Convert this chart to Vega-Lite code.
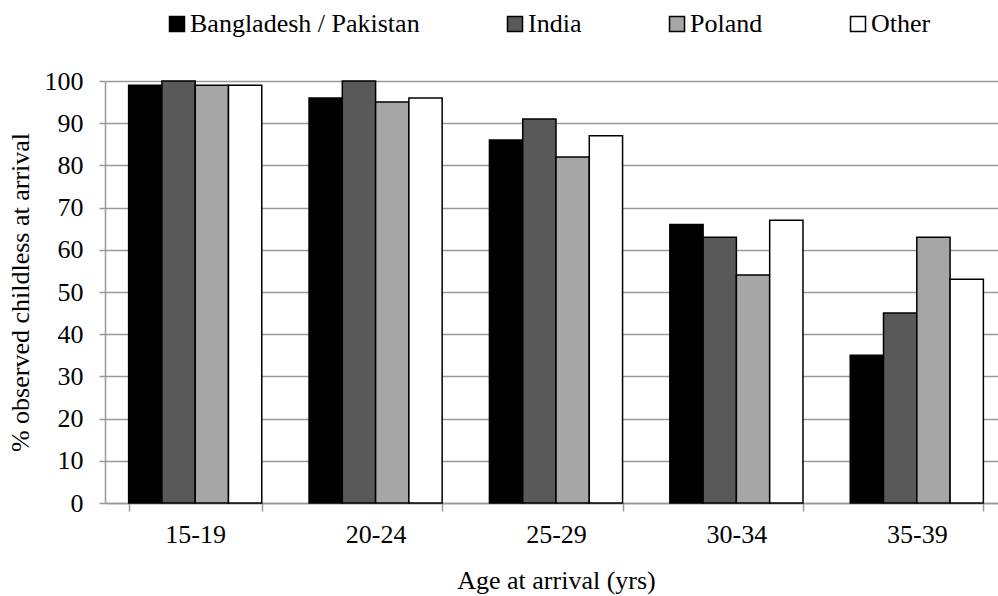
{
  "$schema": "https://vega.github.io/schema/vega-lite/v6.json",
  "autosize": {"type": "none"},
  "padding": {"left": 105, "top": 81, "right": 0, "bottom": 93},
  "width": 893,
  "height": 422,
  "background": "white",
  "config": {
    "font": "Liberation Serif",
    "view": {"stroke": null}
  },
  "data": {
    "values": [
      {"age": "15-19", "origin": "Bangladesh / Pakistan", "pct": 99},
      {"age": "15-19", "origin": "India", "pct": 100},
      {"age": "15-19", "origin": "Poland", "pct": 99},
      {"age": "15-19", "origin": "Other", "pct": 99},
      {"age": "20-24", "origin": "Bangladesh / Pakistan", "pct": 96},
      {"age": "20-24", "origin": "India", "pct": 100},
      {"age": "20-24", "origin": "Poland", "pct": 95},
      {"age": "20-24", "origin": "Other", "pct": 96},
      {"age": "25-29", "origin": "Bangladesh / Pakistan", "pct": 86},
      {"age": "25-29", "origin": "India", "pct": 91},
      {"age": "25-29", "origin": "Poland", "pct": 82},
      {"age": "25-29", "origin": "Other", "pct": 87},
      {"age": "30-34", "origin": "Bangladesh / Pakistan", "pct": 66},
      {"age": "30-34", "origin": "India", "pct": 63},
      {"age": "30-34", "origin": "Poland", "pct": 54},
      {"age": "30-34", "origin": "Other", "pct": 67},
      {"age": "35-39", "origin": "Bangladesh / Pakistan", "pct": 35},
      {"age": "35-39", "origin": "India", "pct": 45},
      {"age": "35-39", "origin": "Poland", "pct": 63},
      {"age": "35-39", "origin": "Other", "pct": 53}
    ]
  },
  "mark": {"type": "bar", "stroke": "black", "strokeWidth": 1.5, "cornerRadius": 0},
  "encoding": {
    "x": {
      "field": "age",
      "type": "nominal",
      "sort": ["15-19", "20-24", "25-29", "30-34", "35-39"],
      "scale": {"range": [0, 902], "paddingInner": 0.262, "paddingOuter": 0.131},
      "axis": {
        "title": "Age at arrival (yrs)",
        "titleFont": "Liberation Serif",
        "titleFontSize": 26,
        "titleFontWeight": "normal",
        "titleColor": "black",
        "titlePadding": 20,
        "labelFont": "Liberation Serif",
        "labelFontSize": 26,
        "labelColor": "black",
        "labelAngle": 0,
        "labelPadding": 10,
        "tickBand": "extent",
        "tickSize": 8,
        "tickColor": "#999999",
        "tickWidth": 1.5,
        "domainColor": "#999999",
        "domainWidth": 1.5,
        "grid": false
      }
    },
    "xOffset": {
      "field": "origin",
      "type": "nominal",
      "sort": ["Bangladesh / Pakistan", "India", "Poland", "Other"],
      "scale": {"paddingInner": 0, "paddingOuter": 0}
    },
    "y": {
      "field": "pct",
      "type": "quantitative",
      "scale": {"domain": [0, 100], "nice": false},
      "axis": {
        "title": "% observed childless at arrival",
        "titleFont": "Liberation Serif",
        "titleFontSize": 26,
        "titleFontWeight": "normal",
        "titleColor": "black",
        "titlePadding": 11,
        "values": [0, 10, 20, 30, 40, 50, 60, 70, 80, 90, 100],
        "labelFont": "Liberation Serif",
        "labelFontSize": 26,
        "labelColor": "black",
        "labelPadding": 16,
        "tickSize": 6,
        "tickColor": "#999999",
        "tickWidth": 1.5,
        "domainColor": "#999999",
        "domainWidth": 1.5,
        "gridColor": "#999999",
        "gridWidth": 1.5
      }
    },
    "fill": {
      "field": "origin",
      "type": "nominal",
      "sort": ["Bangladesh / Pakistan", "India", "Poland", "Other"],
      "scale": {
        "domain": ["Bangladesh / Pakistan", "India", "Poland", "Other"],
        "range": ["#000000", "#595959", "#a6a6a6", "#ffffff"]
      },
      "legend": {
        "title": null,
        "orient": "none",
        "direction": "horizontal",
        "legendX": 59,
        "legendY": -70,
        "symbolType": "square",
        "symbolSize": 225,
        "symbolStrokeColor": "black",
        "symbolStrokeWidth": 1.5,
        "labelFont": "Liberation Serif",
        "labelFontSize": 26,
        "labelColor": "black",
        "labelOffset": 0,
        "columnPadding": 82,
        "labelLimit": 400
      }
    }
  }
}
